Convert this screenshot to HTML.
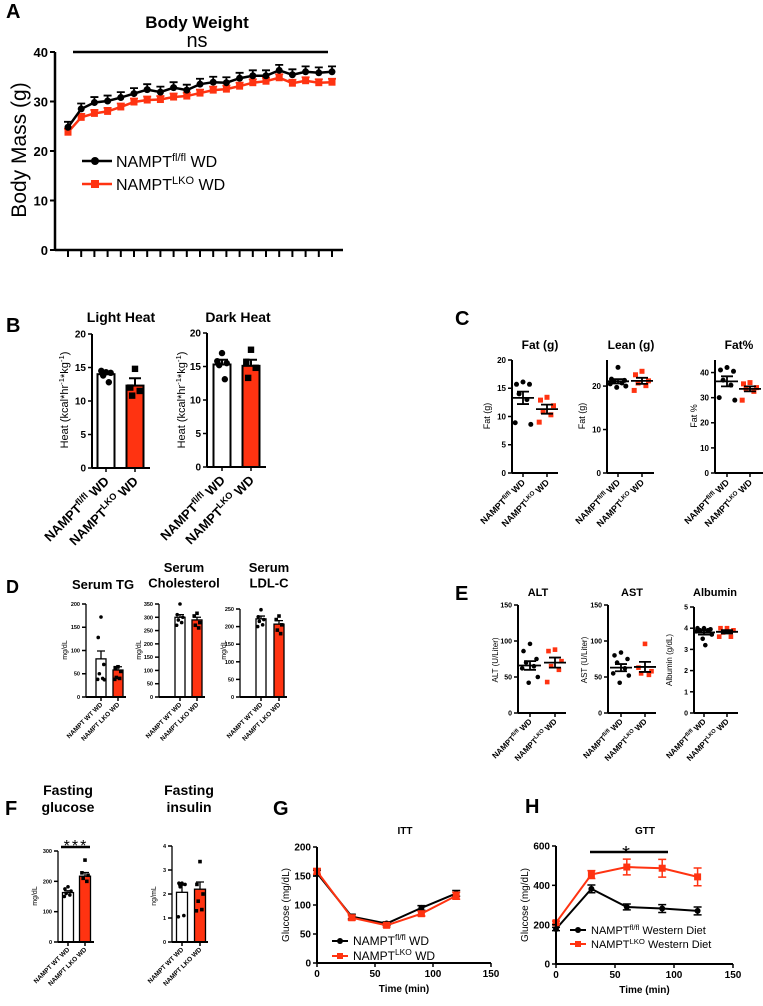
<!DOCTYPE html>
<html><head><meta charset="utf-8"><style>
html,body{margin:0;padding:0;background:#fff;}
svg{display:block;font-family:"Liberation Sans",Arial,sans-serif;}
</style></head><body>
<svg id="fig" width="763" height="1006" viewBox="0 0 763 1006"></svg>
<script>
// ---------- DATA ----------
const weekIdx=[0,1,2,3,4,5,6,7,8,9,10,11,12,13,14,15,16,17,18,19,20];
const bwFl=[24.8,28.5,29.8,30.1,30.8,31.6,32.4,31.9,32.8,32.3,33.5,33.9,33.8,34.7,35.2,35.2,36.3,35.4,36.0,35.8,36.0];
const bwLko=[23.8,26.8,27.6,28.0,28.9,29.9,30.3,30.4,30.9,31.1,31.7,32.3,32.5,33.1,33.8,34.1,34.8,33.7,34.2,33.8,33.9];
const bwTicks=[0,10,20,30,40];

const lightMeans=[14.0,12.3], lightSems=[0.4,1.1];
const lightDots=[[14.3,14.5,14.2,13.8,12.8],[14.8,12.0,11.5,10.8]];
const darkMeans=[15.3,15.1], darkSems=[0.7,0.9];
const darkDots=[[17.0,15.8,15.5,15.2,13.1],[17.5,15.7,14.8,13.3]];
const heatTicks=[0,5,10,15,20];

const fatDots=[[16.1,15.7,15.7,14.0,13.0,8.9,8.6],[13.4,12.9,11.9,10.9,10.3,9.0]];
const fatMeans=[13.3,11.3], fatSems=[1.1,0.8];
const leanDots=[[24.3,21.6,21.3,21.1,20.7,20.5,20.0,19.7],[23.4,22.6,21.2,20.7,20.1,19.0]];
const leanMeans=[21.1,21.2], leanSems=[0.5,0.7];
const fatPctDots=[[42,41,40.5,37,35,30,29],[36,35.5,34,33.5,32.5,29]];
const fatPctMeans=[36.5,33.5], fatPctSems=[2.0,1.0];

const tgMeans=[82,58], tgSems=[17,7];
const tgDots=[[172,128,70,50,40,38,37],[65,63,55,42,40,38]];
const cholMeans=[300,290], cholSems=[10,10];
const cholDots=[[350,310,300,290,280,270],[315,305,280,270,260]];
const ldlMeans=[222,207], ldlSems=[8,10];
const ldlDots=[[248,228,220,215,205,200],[230,220,205,190,180]];

const altDots=[[96,86,75,70,65,62,50,42],[88,86,72,65,60,43]];
const altMeans=[66,70], altSems=[6,7];
const astDots=[[84,80,75,70,62,55,52,42],[96,63,58,55,53]];
const astMeans=[63,64], astSems=[5,7];
const albDots=[[4.0,4.0,3.95,3.9,3.9,3.85,3.7,3.5,3.2],[4.0,4.0,3.9,3.8,3.6,3.6]];
const albMeans=[3.8,3.83], albSems=[0.1,0.08];

const gluMeans=[163,217], gluSems=[6,12];
const gluDots=[[182,175,168,160,155,150],[270,228,220,210,200]];
const insMeans=[2.07,2.2], insSems=[0.3,0.3];
const insDots=[[2.45,2.45,2.4,2.3,1.1,1.05],[3.35,2.4,2.0,1.7,1.35,1.3]];

const ittTime=[0,30,60,90,120];
const ittFl=[155,80,68,95,120], ittFlErr=[5,4,3,4,5];
const ittLko=[158,78,65,85,116], ittLkoErr=[5,4,3,4,6];
const gttTime=[0,30,60,90,120];
const gttFl=[178,382,290,282,270], gttFlErr=[8,20,15,20,20];
const gttLko=[210,455,493,487,443], gttLkoErr=[8,20,40,45,45];

// ---------- HELPERS ----------
const S='http://www.w3.org/2000/svg';
const svg=document.getElementById('fig');
function el(p,t,a,txt){const e=document.createElementNS(S,t);for(const k in a)e.setAttribute(k,a[k]);if(txt!==undefined)e.textContent=txt;p.appendChild(e);return e;}
function lin(d0,d1,r0,r1){return v=>r0+(v-d0)*(r1-r0)/(d1-d0);}
const RED='#ff3311';
const jit=[0,-5,5,-3,3,-6,6,-1,1];

function panelLetter(x,y,t,fs,font){
  const e=el(svg,'text',{x:x,y:y,'font-size':fs,'font-weight':'bold','font-family':font||'"Liberation Sans",sans-serif'},t);
  
  
}
function title(x,y,lines,fs,name,weight){
  lines.forEach((l,i)=>{
    const e=el(svg,'text',{x:x,y:y+i*fs*1.2,'text-anchor':'middle','font-size':fs,'font-weight':weight||'bold'},l);
    
    
  });
}
function yAxis(ax,ys,ticks,top,bottom,fs,name,sw){
  const a=el(svg,'line',{x1:ax,x2:ax,y1:top,y2:bottom,stroke:'#000','stroke-width':sw||2});
  
  
  ticks.forEach(t=>{
    const tk=el(svg,'line',{x1:ax-4,x2:ax,y1:ys(t),y2:ys(t),stroke:'#000','stroke-width':1.5});
    
    
    const tl=el(svg,'text',{x:ax-6,y:ys(t)+fs*0.36,'text-anchor':'end','font-size':fs,'font-weight':'bold'},t);
    
    
  });
}
function yLabel(x,y,t,fs,name){
  const e=el(svg,'text',{x:0,y:0,transform:'translate('+x+','+y+') rotate(-90)','text-anchor':'middle','font-size':fs},'');
  
  
  t.forEach(p=>{el(e,'tspan',p.sup?{'baseline-shift':'super','font-size':fs*0.7}:{},p.t);});
}
function xAxis(x0,x1,y,centers,name){
  const a=el(svg,'line',{x1:x0,x2:x1,y1:y,y2:y,stroke:'#000','stroke-width':2});
  
  
  centers.forEach(c=>{
    const tk=el(svg,'line',{x1:c,x2:c,y1:y,y2:y+4,stroke:'#000','stroke-width':1.5});
    
    
  });
}
function xLabels(centers,y,labels,fs,name){
  centers.forEach((c,i)=>{
    const e=el(svg,'text',{x:0,y:0,transform:'translate('+(c+fs*0.3)+','+(y)+') rotate(-45)','text-anchor':'end','font-size':fs,'font-weight':'bold'});
    
    
    labels[i].forEach(p=>{el(e,'tspan',p.sup?{'baseline-shift':'super','font-size':fs*0.7}:{},p.t);});
  });
}
const supLabels=[[{t:'NAMPT'},{t:'fl/fl',sup:1},{t:' WD'}],[{t:'NAMPT'},{t:'LKO',sup:1},{t:' WD'}]];
const wtLabels=[[{t:'NAMPT WT WD'}],[{t:'NAMPT LKO WD'}]];

function dot(x,y,i,r,name){
  let e;
  if(i===0){e=el(svg,'circle',{cx:x,cy:y,r:r,fill:'#000'});}
  else{e=el(svg,'rect',{x:x-r,y:y-r,width:2*r,height:2*r,fill:arguments[5]||'#000'});}
  
  
}
function barPanel(o){
  const ys=lin(0,o.vmax,o.bottom,o.top);
  o.means.forEach((m,i)=>{
    const c=o.centers[i];
    const b=el(svg,'rect',{x:c-o.bw/2,y:ys(m),width:o.bw,height:o.bottom-ys(m),fill:i?RED:'#fff',stroke:'#000','stroke-width':o.sw});
    
    
    const eb=el(svg,'path',{d:'M'+c+','+ys(m)+'V'+ys(m+o.sems[i])+'M'+(c-o.cap)+','+ys(m+o.sems[i])+'H'+(c+o.cap),stroke:'#000','stroke-width':o.sw,fill:'none'});
    
    
    o.dots[i].forEach((v,j)=>{dot(c+jit[j%jit.length]*o.bw/18,ys(v),i,o.r,o.name+'-point');});
  });
  yAxis(o.ax,ys,o.ticks,o.top,o.bottom,o.fs,o.name,o.sw);
  xAxis(o.ax,o.xEnd,o.bottom,o.centers,o.name);
}
function scatterPanel(o){
  const ys=lin(0,o.vmax,o.bottom,o.top);
  o.means.forEach((m,i)=>{
    const c=o.centers[i];
    o.dots[i].forEach((v,j)=>{dot(c+jit[j%jit.length]*1.3,ys(v),i,o.r,o.name+'-point',RED);});
    const ml=el(svg,'path',{d:'M'+(c-11)+','+ys(m)+'H'+(c+11)+'M'+c+','+ys(m-o.sems[i])+'V'+ys(m+o.sems[i])+'M'+(c-6)+','+ys(m-o.sems[i])+'H'+(c+6)+'M'+(c-6)+','+ys(m+o.sems[i])+'H'+(c+6),stroke:'#000','stroke-width':1.8,fill:'none'});
    
    
  });
  yAxis(o.ax,ys,o.ticks,o.top,o.bottom,o.fs,o.name,2);
  xAxis(o.ax,o.xEnd,o.bottom,o.centers,o.name);
}
function linePanel(o){
  const xs=lin(0,150,o.x0,o.x1), ys=lin(0,o.vmax,o.bottom,o.top);
  o.series.forEach((s,k)=>{
    const col=k?RED:'#000';
    const pl=el(svg,'polyline',{points:o.time.map((t,i)=>xs(t)+','+ys(s.v[i])).join(' '),fill:'none',stroke:col,'stroke-width':2});
    
    
    o.time.forEach((t,i)=>{
      const x=xs(t),v=s.v[i],e=s.e[i];
      const eb=el(svg,'path',{d:'M'+x+','+ys(v-e)+'V'+ys(v+e)+'M'+(x-4)+','+ys(v-e)+'H'+(x+4)+'M'+(x-4)+','+ys(v+e)+'H'+(x+4),stroke:col,'stroke-width':1.5,fill:'none'});
      
      
      dot(x,ys(v),k,k?3.5:3,o.name+'-point',RED);
    });
  });
  yAxis(o.x0,ys,o.ticks,o.top,o.bottom,10,o.name,2);
  const a=el(svg,'line',{x1:o.x0,x2:xs(150),y1:o.bottom,y2:o.bottom,stroke:'#000','stroke-width':2});
  
  
  [0,50,100,150].forEach(t=>{
    const tk=el(svg,'line',{x1:xs(t),x2:xs(t),y1:o.bottom,y2:o.bottom+4,stroke:'#000','stroke-width':1.5});
    
    
    const tl=el(svg,'text',{x:xs(t),y:o.bottom+14,'text-anchor':'middle','font-size':10,'font-weight':'bold'},t);
    
    
  });
  const xt=el(svg,'text',{x:(o.x0+xs(150))/2,y:o.bottom+29,'text-anchor':'middle','font-size':10,'font-weight':'bold'},'Time (min)');
  
  
  yLabel(o.x0-28,(o.top+o.bottom)/2,[{t:'Glucose (mg/dL)'}],10,o.name);
  o.legend.forEach((lg,k)=>{
    const y=o.legY+k*o.legDy, col=k?RED:'#000';
    const ln=el(svg,'line',{x1:o.legX,x2:o.legX+16,y1:y,y2:y,stroke:col,'stroke-width':2});
    
    
    dot(o.legX+8,y,k,3,o.name+'-legend-marker',RED);
    const tx=el(svg,'text',{x:o.legX+21,y:y+4,'font-size':o.legFs});
    
    
    el(tx,'tspan',{},'NAMPT');el(tx,'tspan',{'baseline-shift':'super','font-size':o.legFs*0.7},k?'LKO':'fl/fl');el(tx,'tspan',{},' '+lg);
  });
}

// ---------- PANEL A ----------
panelLetter(6,18,'A',20);
title(197,28,['Body Weight'],17,'body-weight');
(function(){
  const ys=lin(0,40,250,52), xs=lin(0,20,68,332);
  const ns=el(svg,'text',{x:197,y:47,'text-anchor':'middle','font-size':20},'ns');
  
  
  const sl=el(svg,'line',{x1:73,x2:328,y1:52,y2:52,stroke:'#000','stroke-width':2.5});
  
  
  [[bwLko,RED,0.7,1],[bwFl,'#000',1.1,0]].forEach(([arr,col,err,k])=>{
    const pl=el(svg,'polyline',{points:weekIdx.map(i=>xs(i)+','+ys(arr[i])).join(' '),fill:'none',stroke:col,'stroke-width':2.5});
    
    
    weekIdx.forEach(i=>{
      const x=xs(i),y=ys(arr[i]);
      const eb=el(svg,'path',{d:'M'+x+','+y+'V'+ys(arr[i]+err)+'M'+(x-4)+','+ys(arr[i]+err)+'H'+(x+4),stroke:col,'stroke-width':1.8,fill:'none'});
      
      
      dot(x,y,k,3.5,'bw-point',RED);
    });
  });
  const ax=el(svg,'line',{x1:55,x2:55,y1:52,y2:250,stroke:'#000','stroke-width':2.5});
  
  
  bwTicks.forEach(t=>{
    const tk=el(svg,'line',{x1:50,x2:55,y1:ys(t),y2:ys(t),stroke:'#000','stroke-width':2});
    
    
    const tl=el(svg,'text',{x:48,y:ys(t)+5,'text-anchor':'end','font-size':13,'font-weight':'bold'},t);
    
    
  });
  const xa=el(svg,'line',{x1:55,x2:343,y1:250,y2:250,stroke:'#000','stroke-width':2.5});
  
  
  weekIdx.forEach(i=>{
    const tk=el(svg,'line',{x1:xs(i),x2:xs(i),y1:250,y2:257,stroke:'#000','stroke-width':2});
    
    
  });
  yLabel(26,150,[{t:'Body Mass (g)'}],21,'bw');
  [['fl/fl',0,161],['LKO',1,184]].forEach(([s,k,y])=>{
    const col=k?RED:'#000';
    const ln=el(svg,'line',{x1:82,x2:112,y1:y,y2:y,stroke:col,'stroke-width':2.5});
    
    
    dot(95,y,k,4,'bw-legend-marker',RED);
    const tx=el(svg,'text',{x:116,y:y+6,'font-size':16});
    
    
    el(tx,'tspan',{},'NAMPT');el(tx,'tspan',{'baseline-shift':'super','font-size':11},s);el(tx,'tspan',{},' WD');
  });
})();

// ---------- PANEL B ----------
panelLetter(6,332,'B',20);
title(121,322,['Light Heat'],14,'light-heat');
title(238,322,['Dark Heat'],14,'dark-heat');
barPanel({name:'light-heat',ax:92,top:334,bottom:468,vmax:20,ticks:heatTicks,centers:[106,135],bw:17,means:lightMeans,sems:lightSems,dots:lightDots,fs:10,sw:2,cap:6,r:3.2,xEnd:150});
barPanel({name:'dark-heat',ax:207,top:333,bottom:467,vmax:20,ticks:heatTicks,centers:[222,251],bw:17,means:darkMeans,sems:darkSems,dots:darkDots,fs:10,sw:2,cap:6,r:3.2,xEnd:266});
const heatLbl=[{t:'Heat (kcal*hr'},{t:'-1',sup:1},{t:'*kg'},{t:'-1',sup:1},{t:')'}];
yLabel(68,400,heatLbl,11,'light-heat');
yLabel(185,400,heatLbl,11,'dark-heat');
xLabels([106,135],482,supLabels,13,'light-heat');
xLabels([222,251],481,supLabels,13,'dark-heat');

// ---------- PANEL C ----------
panelLetter(455,325,'C',20);
title(540,349,['Fat (g)'],12,'fat');
title(631,349,['Lean (g)'],12,'lean');
title(739,349,['Fat%'],12,'fat-pct');
scatterPanel({name:'fat',ax:512,top:360,bottom:473,vmax:20,ticks:[0,5,10,15,20],centers:[523,547],dots:fatDots,means:fatMeans,sems:fatSems,fs:8,r:2.5,xEnd:558});
scatterPanel({name:'lean',ax:607,top:360,bottom:473,vmax:26,ticks:[0,10,20],centers:[618,642],dots:leanDots,means:leanMeans,sems:leanSems,fs:8,r:2.5,xEnd:654});
scatterPanel({name:'fat-pct',ax:715,top:360,bottom:473,vmax:45,ticks:[0,10,20,30,40],centers:[727,750],dots:fatPctDots,means:fatPctMeans,sems:fatPctSems,fs:8,r:2.5,xEnd:763});
yLabel(490,416,[{t:'Fat (g)'}],9,'fat');
yLabel(585,416,[{t:'Fat (g)'}],9,'lean');
yLabel(697,416,[{t:'Fat %'}],9,'fat-pct');
xLabels([523,547],483,supLabels,9,'fat');
xLabels([618,642],483,supLabels,9,'lean');
xLabels([727,750],483,supLabels,9,'fat-pct');

// ---------- PANEL D ----------
panelLetter(6,593,'D',18);
title(103,589,['Serum TG'],13,'serum-tg');
title(184,572,['Serum','Cholesterol'],13,'serum-cholesterol');
title(269,572,['Serum','LDL-C'],13,'serum-ldl');
barPanel({name:'tg',ax:86,top:604,bottom:697,vmax:200,ticks:[0,50,100,150,200],centers:[101,118],bw:10,means:tgMeans,sems:tgSems,dots:tgDots,fs:5.5,sw:1.3,cap:4,r:1.8,xEnd:126});
barPanel({name:'chol',ax:159,top:604,bottom:697,vmax:350,ticks:[0,50,100,150,200,250,300,350],centers:[180,197],bw:10,means:cholMeans,sems:cholSems,dots:cholDots,fs:5.5,sw:1.3,cap:4,r:1.8,xEnd:205});
barPanel({name:'ldl',ax:240,top:609,bottom:697,vmax:250,ticks:[0,50,100,150,200,250],centers:[261,279],bw:10,means:ldlMeans,sems:ldlSems,dots:ldlDots,fs:5.5,sw:1.3,cap:4,r:1.8,xEnd:287});
yLabel(67,650,[{t:'mg/dL'}],7,'tg');
yLabel(141,650,[{t:'mg/dL'}],7,'chol');
yLabel(226,650,[{t:'mg/dL'}],7,'ldl');
xLabels([101,118],705,wtLabels,6.5,'tg');
xLabels([180,197],705,wtLabels,6.5,'chol');
xLabels([261,279],705,wtLabels,6.5,'ldl');

// ---------- PANEL E ----------
panelLetter(455,600,'E',20);
title(538,596,['ALT'],11,'alt');
title(632,596,['AST'],11,'ast');
title(715,596,['Albumin'],11,'albumin');
scatterPanel({name:'alt',ax:518,top:605,bottom:713,vmax:150,ticks:[0,50,100,150],centers:[530,555],dots:altDots,means:altMeans,sems:altSems,fs:7,r:2.3,xEnd:566});
scatterPanel({name:'ast',ax:608,top:605,bottom:713,vmax:150,ticks:[0,50,100,150],centers:[621,645],dots:astDots,means:astMeans,sems:astSems,fs:7,r:2.3,xEnd:656});
scatterPanel({name:'albumin',ax:694,top:607,bottom:713,vmax:5,ticks:[0,1,2,3,4,5],centers:[704,727],dots:albDots,means:albMeans,sems:albSems,fs:7,r:2.3,xEnd:738});
yLabel(498,660,[{t:'ALT (U/Liter)'}],8,'alt');
yLabel(587,660,[{t:'AST (U/Liter)'}],8,'ast');
yLabel(672,660,[{t:'Albumin (g/dL)'}],8,'albumin');
xLabels([530,555],722,supLabels,8,'alt');
xLabels([621,645],722,supLabels,8,'ast');
xLabels([704,727],722,supLabels,8,'albumin');

// ---------- PANEL F ----------
panelLetter(5,815,'F',20);
title(68,795,['Fasting','glucose'],14,'fasting-glucose');
title(189,795,['Fasting','insulin'],14,'fasting-insulin');
barPanel({name:'glucose',ax:58,top:851,bottom:942,vmax:300,ticks:[0,100,200,300],centers:[68,85],bw:11,means:gluMeans,sems:gluSems,dots:gluDots,fs:5.5,sw:1.3,cap:4,r:1.8,xEnd:94});
barPanel({name:'insulin',ax:172,top:846,bottom:942,vmax:4,ticks:[0,1,2,3,4],centers:[182,200],bw:11,means:insMeans,sems:insSems,dots:insDots,fs:5.5,sw:1.3,cap:4,r:1.8,xEnd:208});
(function(){
  const st=el(svg,'text',{x:76,y:851,'text-anchor':'middle','font-size':16,'letter-spacing':'2'},'***');
  
  
  const ln=el(svg,'line',{x1:61,x2:90,y1:847,y2:847,stroke:'#000','stroke-width':2.5});
  
  
})();
yLabel(37,896,[{t:'mg/dL'}],7,'glucose');
yLabel(156,896,[{t:'ng/mL'}],7,'insulin');
xLabels([68,85],950,wtLabels,6.5,'glucose');
xLabels([182,200],950,wtLabels,6.5,'insulin');

// ---------- PANEL G ----------
panelLetter(273,815,'G',20);
title(405,834,['ITT'],10,'itt');
linePanel({name:'itt',x0:317,x1:491,top:847,bottom:963,vmax:200,ticks:[0,50,100,150,200],time:ittTime,
  series:[{v:ittFl,e:ittFlErr},{v:ittLko,e:ittLkoErr}],legend:['WD','WD'],legX:332,legY:941,legDy:15,legFs:12});

// ---------- PANEL H ----------
panelLetter(525,813,'H',20);
title(645,834,['GTT'],10,'gtt');
(function(){
  const st=el(svg,'text',{x:626,y:860,'text-anchor':'middle','font-size':20},'*');
  
  
  const ln=el(svg,'line',{x1:590,x2:668,y1:852,y2:852,stroke:'#000','stroke-width':2.5});
  
  
})();
linePanel({name:'gtt',x0:556,x1:733,top:846,bottom:964,vmax:600,ticks:[0,200,400,600],time:gttTime,
  series:[{v:gttFl,e:gttFlErr},{v:gttLko,e:gttLkoErr}],legend:['Western Diet','Western Diet'],legX:570,legY:930,legDy:14,legFs:11});
</script>
</body></html>
